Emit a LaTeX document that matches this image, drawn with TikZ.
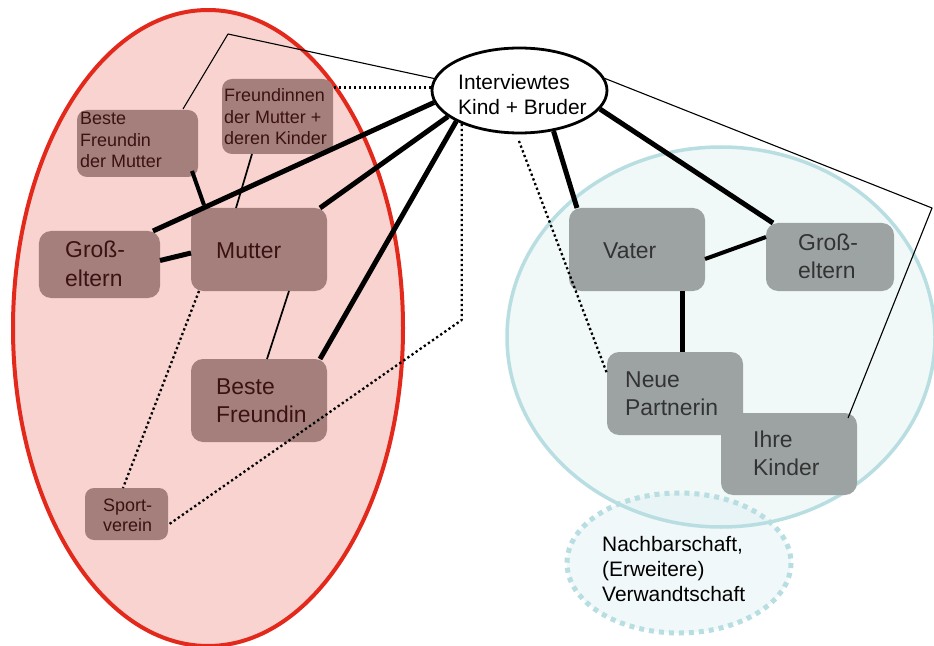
\documentclass[tikz,border=0pt]{standalone}
\usepackage{fontspec}
\setmainfont{Liberation Sans}
\usetikzlibrary{shapes.geometric,calc}

\definecolor{famfill}{HTML}{F8D3CF}
\definecolor{famline}{HTML}{E2291C}
\definecolor{boxbrown}{HTML}{A47F7B}
\definecolor{txtbrown}{HTML}{3A1212}
\definecolor{circfill}{HTML}{F0F8F8}
\definecolor{circline}{HTML}{B8DEE1}
\definecolor{nbfill}{HTML}{F1F8F9}
\definecolor{nboverlap}{HTML}{E8F4F5}
\definecolor{boxgray}{HTML}{9DA3A3}
\definecolor{txtgray}{HTML}{333333}

% lines of a label, first baseline at the node's base anchor
\newcommand\txtlines[1]{\begin{tabular}[t]{@{}l@{}}#1\end{tabular}}

\begin{document}
\begin{tikzpicture}[x=1bp,y=-1bp,
  lbox/.style={rectangle, rounded corners=12bp, fill=boxbrown, inner sep=0pt, outer sep=0pt},
  rbox/.style={rectangle, rounded corners=12bp, fill=boxgray, inner sep=0pt, outer sep=0pt},
  ltxt/.style={anchor=base west, inner sep=0pt, text=txtbrown},
  rtxt/.style={anchor=base west, inner sep=0pt, text=txtgray},
  btxt/.style={anchor=base west, inner sep=0pt, text=black},
  big/.style={font=\fontsize{23}{29}\selectfont},
  mid/.style={font=\fontsize{21}{25.5}\selectfont},
  small/.style={font=\fontsize{18}{21.5}\selectfont},
  strong/.style={line width=5bp},
  medium/.style={line width=4bp},
  thin/.style={line width=1.7bp},
  hair/.style={line width=1.1bp, line join=round},
  dots/.style={line width=2.3bp, dash pattern=on 2.3bp off 2.7bp, line join=round},
]
\useasboundingbox (0,0) rectangle (934,646);

% mother's household
\fill[famfill] (208,328) ellipse [x radius=195, y radius=318];
\draw[famline, line width=4bp] (208,328) ellipse [x radius=195, y radius=318];

% father's household and the wider surroundings
\fill[circfill] (721,337) ellipse [x radius=214, y radius=190];
\fill[nbfill] (679,563) ellipse [x radius=112, y radius=70];
\begin{scope}
  \clip (721,337) ellipse [x radius=214, y radius=190];
  \fill[nboverlap] (679,563) ellipse [x radius=112, y radius=70];
\end{scope}
\draw[circline, line width=3.5bp] (721,337) ellipse [x radius=214, y radius=190];
\draw[circline, line width=5bp, dash pattern=on 5bp off 5bp] (679,563) ellipse [x radius=112, y radius=70];

% mother's side
\node[lbox, rounded corners=10bp, minimum width=121bp, minimum height=67bp] (bfm) at (137.5,143.5) {};
\node[lbox, rounded corners=10bp, minimum width=111bp, minimum height=75bp] (fdm) at (277.5,116.5) {};
\node[lbox, minimum width=121bp, minimum height=67bp] (gl) at (99.5,264.5) {};
\node[lbox, minimum width=136bp, minimum height=83bp] (mutter) at (259,249.5) {};
\node[lbox, minimum width=136bp, minimum height=83bp] (bf) at (259,400.5) {};
\node[lbox, rounded corners=9bp, minimum width=83bp, minimum height=52bp] (sport) at (126.5,514) {};

% father's side
\node[rbox, minimum width=136bp, minimum height=83bp] (vater) at (637,249.5) {};
\node[rbox, minimum width=128bp, minimum height=68bp] (gr) at (830,257) {};
\node[rbox, minimum width=136bp, minimum height=83bp] (np) at (675,393.5) {};
\node[rbox, minimum width=136bp, minimum height=82bp] (ik) at (789,454) {};

% centre
\node[ellipse, minimum width=175bp, minimum height=85bp, fill=white, draw=black,
      line width=2.8bp, inner sep=0pt] (iv) at (519.5,90.5) {};

\coordinate (lbend) at (228,34);
\coordinate (rbend) at (932,208);
\coordinate (sbend) at (463,320);
\coordinate (vfoot) at ($(vater.south)+(45,0)$);
\coordinate (bfmfoot) at ($(bfm.south east)+(-6,-6)$);
\coordinate (mutterhead) at ($(mutter.north west)+(13,-3)$);

% strong ties
\draw[strong] (iv.188) -- ($(gl.north east)+(-7,0)$);
\draw[strong] (iv.200) -- ($(mutter.north east)+(-7,0)$);
\draw[strong] (iv.206) -- ($(bf.north east)+(-7,0)$);
\draw[strong] ($(gl.east)+(0,-4)$) -- ($(mutter.west)+(0,3.5)$);
\draw[medium] (bfmfoot) -- (mutterhead);
\draw[strong] (iv.310) -- ($(vater.north west)+(8,0)$);
\draw[strong] (iv.347) -- ($(gr.north west)+(7,0)$);
\draw[medium] ($(vater.east)+(0,9.5)$) -- ($(gr.west)+(0,-20)$);
\draw[strong] (vfoot) -- (vfoot |- np.north);

% weak ties
\draw[thin] ($(fdm.south)+(-25.5,0)$) -- ($(mutter.north)+(-23,0)$);
\draw[thin] ($(mutter.south)+(30,0)$) -- ($(bf.north)+(8,0)$);
\draw[hair] ($(bfm.north)+(45.5,-1)$) -- (lbend) -- (iv.172);
\draw[hair] (iv.8) -- (rbend) -- ($(ik.north east)+(-9,5)$);

% occasional contact
\draw[dots] (iv.178) -- (iv.178 -| fdm.east);
\draw[dots] (iv.210) -- (iv.210 |- sbend) -- ($(sport.east)+(0,11)$);
\draw[dots] ($(mutter.south west)+(8,0)$) -- ($(sport.north)+(-3.5,0)$);
\draw[dots, shorten <=7bp] (iv.266) -- ($(np.west)+(0,-20)$);

% labels
\node[ltxt, small] (bfm-t) at (80,125) {\txtlines{Beste\\Freundin\\der Mutter}};
\node[ltxt, small] (fdm-t) at (224,102) {\txtlines{Freundinnen\\der Mutter +\\deren Kinder}};
\node[ltxt, big] (gl-t) at (65,258) {\txtlines{Groß-\\eltern}};
\node[ltxt, big] (mutter-t) at (216,259) {\txtlines{Mutter}};
\node[ltxt, big] (bf-t) at (216,394) {\txtlines{Beste\\Freundin}};
\node[ltxt, small, font=\fontsize{18}{21}\selectfont] (sport-t) at (103,511) {\txtlines{Sport-\\verein}};
\node[rtxt, big] (vater-t) at (603,259) {\txtlines{Vater}};
\node[rtxt, big, font=\fontsize{23}{28}\selectfont] (gr-t) at (798,251) {\txtlines{Groß-\\eltern}};
\node[rtxt, big] (np-t) at (625,387) {\txtlines{Neue\\Partnerin}};
\node[rtxt, big] (ik-t) at (753,447) {\txtlines{Ihre\\Kinder}};
\node[btxt, mid, font=\fontsize{21}{25}\selectfont] (iv-t) at (458,90) {\txtlines{Interviewtes\\Kind + Bruder}};
\node[btxt, mid] (nb-t) at (602,551) {\txtlines{Nachbarschaft,\\(Erweitere)\\Verwandtschaft}};
\end{tikzpicture}
\end{document}
